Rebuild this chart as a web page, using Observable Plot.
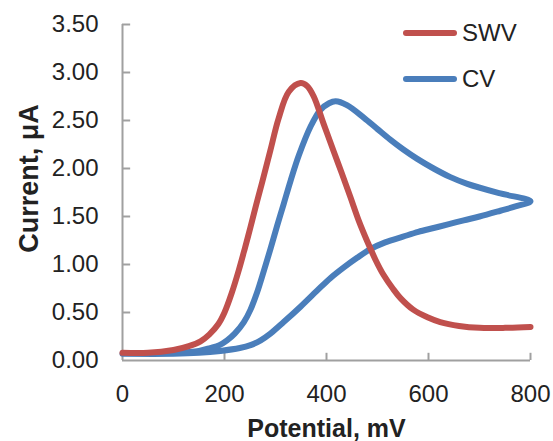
<!DOCTYPE html>
<html>
<head>
<meta charset="utf-8">
<script src="https://cdn.jsdelivr.net/npm/d3@7"></script>
<script src="https://cdn.jsdelivr.net/npm/@observablehq/plot@0.6"></script>
<style>
  body { margin: 0; background: #fff; }
  #wrap { position: relative; width: 553px; height: 441px; font-family: "Liberation Sans", Arial, sans-serif; }
  .legend { position: absolute; left: 403px; top: 10px; font-size: 24px; color: #222; }
  .legend .row { display: flex; align-items: center; height: 46px; }
  .legend .sw { width: 54px; height: 6px; border-radius: 3px; margin-right: 5px; }
</style>
</head>
<body>
<div id="wrap"></div>
<script>
// SWV (square wave voltammetry) curve
const swvPotential = [0, 50, 100, 130, 153, 170, 188, 200, 214, 228, 240, 251, 262, 274, 290, 306, 326, 349, 362, 375, 394, 414, 430, 447, 463, 480, 496, 512, 530, 545, 570, 598, 623, 660, 700, 750, 800];
const swvCurrent   = [0.08, 0.08, 0.11, 0.15, 0.20, 0.27, 0.38, 0.50, 0.70, 0.94, 1.17, 1.39, 1.62, 1.86, 2.19, 2.52, 2.80, 2.89, 2.86, 2.75, 2.47, 2.18, 1.95, 1.70, 1.46, 1.24, 1.05, 0.89, 0.75, 0.65, 0.53, 0.45, 0.40, 0.36, 0.34, 0.34, 0.35];

// CV (cyclic voltammetry) loop: forward scan then reverse scan
const cvPotential = [0, 100, 150, 172, 190, 205, 220, 238, 251, 264, 277, 290, 303, 316, 330, 346, 369, 388, 405, 418, 440, 473, 500, 525, 550, 578, 610, 643, 676, 741, 800,
                     774, 741, 700, 669, 640, 610, 580, 550, 515, 486, 460, 434, 408, 382, 349, 316, 290, 271, 251, 230, 192, 150, 100, 0];
const cvCurrent   = [0.07, 0.08, 0.10, 0.13, 0.16, 0.21, 0.28, 0.40, 0.53, 0.71, 0.93, 1.16, 1.40, 1.63, 1.88, 2.14, 2.44, 2.61, 2.68, 2.70, 2.66, 2.53, 2.41, 2.30, 2.20, 2.10, 2.00, 1.91, 1.84, 1.74, 1.66,
                     1.61, 1.56, 1.50, 1.46, 1.42, 1.38, 1.34, 1.29, 1.23, 1.16, 1.07, 0.97, 0.86, 0.73, 0.56, 0.40, 0.28, 0.21, 0.16, 0.13, 0.10, 0.08, 0.07, 0.07];

const seriesNames  = ["SWV", "CV"];
const seriesColors = ["#c0504d", "#4a7ebb"];
const xTicks = [0, 200, 400, 600, 800];
const yTicks = [0, 0.5, 1.0, 1.5, 2.0, 2.5, 3.0, 3.5];
const xTitle = "Potential, mV";
const yTitle = "Current, μA";

const swv = swvPotential.map((p, i) => ({p, c: swvCurrent[i]}));
const cv  = cvPotential.map((p, i) => ({p, c: cvCurrent[i]}));

const axisColor = "#a0a0a0";

const chart = Plot.plot({
  width: 553,
  height: 441,
  marginLeft: 122,
  marginRight: 23,
  marginTop: 24,
  marginBottom: 81,
  x: {domain: [0, 800]},
  y: {domain: [0, 3.5]},
  style: {fontFamily: '"Liberation Sans", Arial, sans-serif', fontSize: "24px", color: "#222", background: "white"},
  marks: [
    Plot.axisX(xTicks, {tickSize: 0, tickPadding: 24, label: null, fill: "#222"}),
    Plot.axisY(yTicks, {tickSize: 0, tickPadding: 24, tickFormat: d3.format(".2f"), label: null, fill: "#222"}),
    // axis lines
    Plot.ruleX([0], {y1: 0, y2: 3.5, stroke: axisColor, strokeWidth: 2}),
    Plot.ruleY([0], {x1: 0, x2: 800, stroke: axisColor, strokeWidth: 2}),
    // inward tick marks
    Plot.ruleY(yTicks.slice(1), {x1: 0, x2: 16, stroke: axisColor, strokeWidth: 2}),
    Plot.ruleX(xTicks.slice(1), {y1: 0, y2: 0.075, stroke: axisColor, strokeWidth: 2}),
    // curves
    Plot.line(cv,  {x: "p", y: "c", stroke: seriesColors[1], strokeWidth: 6, curve: "catmull-rom", strokeLinejoin: "round"}),
    Plot.line(swv, {x: "p", y: "c", stroke: seriesColors[0], strokeWidth: 6, curve: "catmull-rom", strokeLinejoin: "round"}),
    // axis titles
    Plot.text([xTitle], {frameAnchor: "bottom", dy: 76, fontWeight: "bold", fontSize: 25, fill: "#222"}),
    Plot.text([yTitle], {frameAnchor: "left", textAnchor: "middle", lineAnchor: "middle", dx: -93, dy: -14, rotate: -90, fontWeight: "bold", fontSize: 27, fill: "#222"})
  ]
});

const wrap = document.getElementById("wrap");
wrap.appendChild(chart);

const legend = document.createElement("div");
legend.className = "legend";
seriesNames.forEach((name, k) => {
  const row = document.createElement("div");
  row.className = "row";
  const sw = document.createElement("span");
  sw.className = "sw";
  sw.style.background = seriesColors[k];
  const label = document.createElement("span");
  label.textContent = name;
  row.appendChild(sw);
  row.appendChild(label);
  legend.appendChild(row);
});
wrap.appendChild(legend);
</script>
</body>
</html>
